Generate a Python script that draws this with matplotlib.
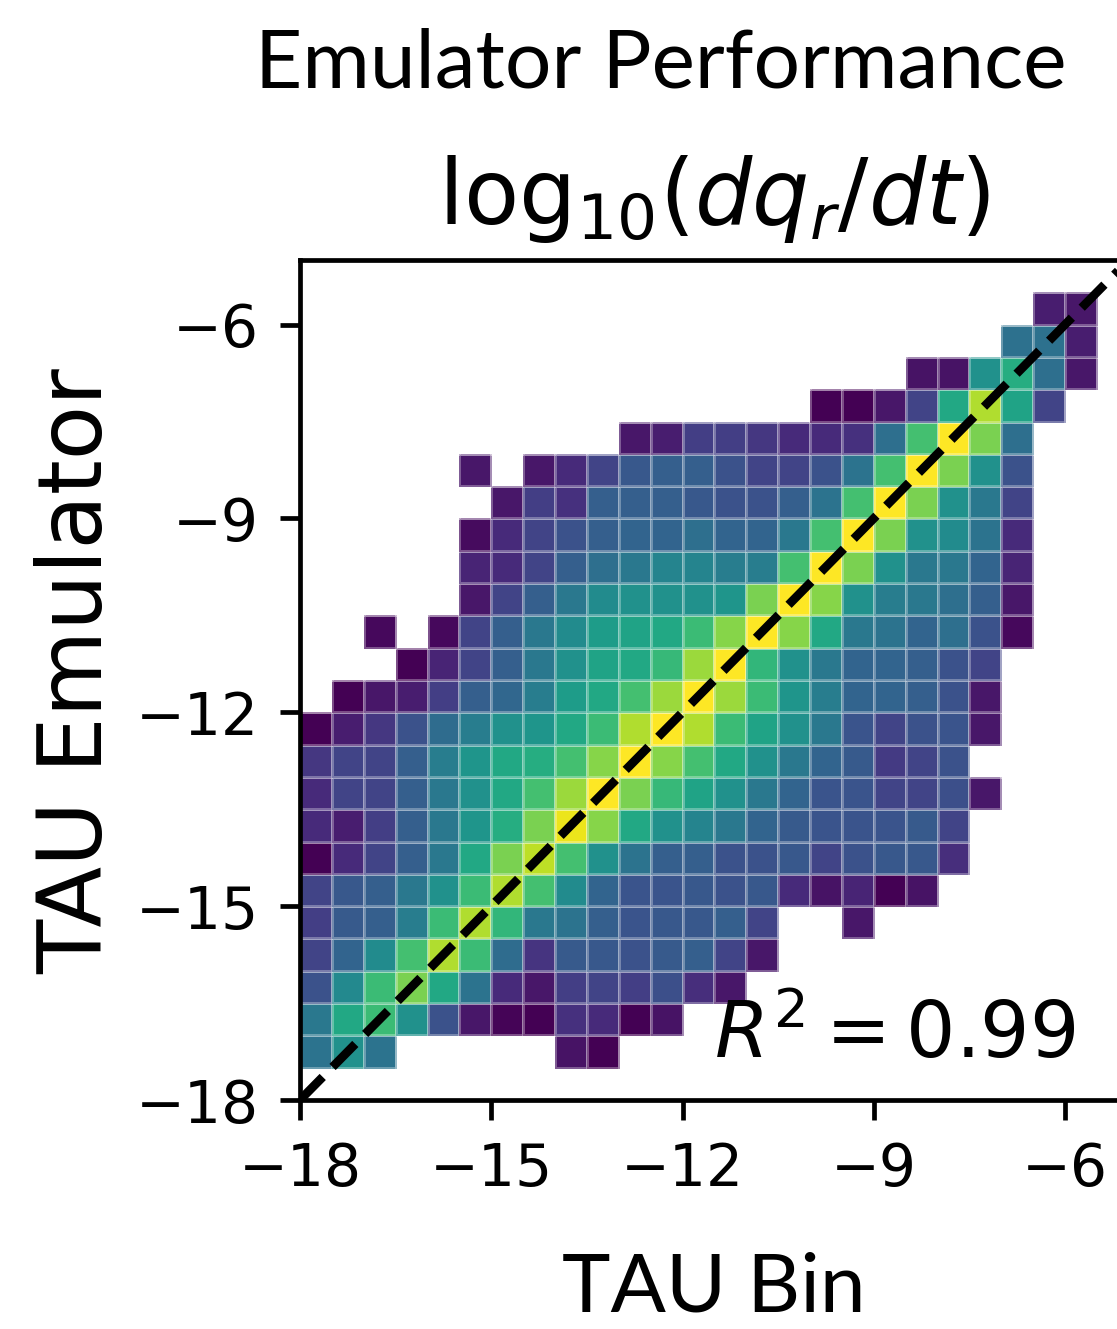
import numpy as np
import matplotlib
matplotlib.use("Agg")
import matplotlib.pyplot as plt

N = np.nan

# bin edges of the 2D histogram (0.5 wide bins on both axes)
bin_lo, bin_hi, bin_w = -18.0, -5.0, 0.5

# normalised (log) counts per bin, row 0 = bottom row (TAU Emulator -18 .. -17.5)
row_00 = [N] * 26
row_01 = [0.38, 0.50, 0.38, N, N, N, N, N, 0.05, 0.00] + [N] * 16
row_02 = [0.40, 0.60, 0.68, 0.50, 0.25, 0.06, 0.01, 0.00, 0.14, 0.12, 0.00, 0.05] + [N] * 14
row_03 = [0.25, 0.47, 0.68, 0.80, 0.60, 0.38, 0.12, 0.06, 0.18, 0.20, 0.18, 0.24, 0.13, 0.06] + [N] * 12
row_04 = [0.20, 0.32, 0.48, 0.70, 0.88, 0.68, 0.35, 0.15, 0.28, 0.27, 0.25, 0.28, 0.30, 0.20, 0.06] + [N] * 11
row_05 = [0.18, 0.28, 0.30, 0.42, 0.68, 0.88, 0.66, 0.40, 0.38, 0.30, 0.26, 0.27, 0.27, 0.30, 0.20,
          N, N, 0.06] + [N] * 8
row_06 = [0.20, 0.27, 0.30, 0.40, 0.50, 0.68, 0.88, 0.70, 0.48, 0.32, 0.26, 0.26, 0.27, 0.25, 0.27,
          0.12, 0.05, 0.10, 0.00, 0.05] + [N] * 6
row_07 = [0.00, 0.12, 0.20, 0.30, 0.40, 0.60, 0.80, 0.90, 0.70, 0.50, 0.38, 0.30, 0.30, 0.25, 0.25,
          0.27, 0.20, 0.25, 0.27, 0.27, 0.13] + [N] * 5
row_08 = [0.12, 0.08, 0.18, 0.30, 0.40, 0.52, 0.62, 0.80, 0.97, 0.82, 0.60, 0.50, 0.45, 0.40, 0.32,
          0.28, 0.26, 0.26, 0.26, 0.28, 0.20] + [N] * 5
row_09 = [0.12, 0.20, 0.20, 0.30, 0.40, 0.50, 0.60, 0.70, 0.85, 1.00, 0.80, 0.67, 0.58, 0.50, 0.40,
          0.32, 0.26, 0.26, 0.20, 0.20, 0.24, 0.06] + [N] * 4
row_10 = [0.16, 0.20, 0.20, 0.30, 0.42, 0.52, 0.60, 0.62, 0.70, 0.82, 1.00, 0.82, 0.70, 0.60, 0.50,
          0.40, 0.32, 0.28, 0.17, 0.20, 0.25] + [N] * 5
row_11 = [0.00, 0.08, 0.16, 0.25, 0.35, 0.42, 0.50, 0.52, 0.60, 0.68, 0.88, 1.00, 0.88, 0.68, 0.58,
          0.50, 0.40, 0.26, 0.20, 0.25, 0.26, 0.06] + [N] * 4
row_12 = [N, 0.00, 0.06, 0.08, 0.18, 0.30, 0.33, 0.42, 0.55, 0.60, 0.70, 0.85, 1.00, 0.85, 0.68,
          0.52, 0.42, 0.32, 0.32, 0.30, 0.25, 0.06] + [N] * 4
row_13 = [N, N, N, 0.00, 0.10, 0.20, 0.30, 0.40, 0.50, 0.58, 0.60, 0.67, 0.85, 1.00, 0.66,
          0.50, 0.40, 0.32, 0.32, 0.30, 0.25, 0.20] + [N] * 4
row_14 = [N, N, 0.02, N, 0.02, 0.20, 0.30, 0.40, 0.48, 0.55, 0.58, 0.60, 0.68, 0.82, 1.00,
          0.82, 0.60, 0.40, 0.38, 0.32, 0.36, 0.25, 0.02] + [N] * 3
row_15 = [N] * 5 + [0.06, 0.20, 0.30, 0.40, 0.48, 0.50, 0.50, 0.50, 0.52, 0.80, 1.00, 0.82, 0.50,
                    0.42, 0.40, 0.36, 0.30, 0.06] + [N] * 3
row_16 = [N] * 5 + [0.10, 0.12, 0.20, 0.30, 0.36, 0.40, 0.45, 0.45, 0.42, 0.42, 0.70, 1.00, 0.80,
                    0.50, 0.40, 0.40, 0.32, 0.10] + [N] * 3
row_17 = [N] * 5 + [0.03, 0.12, 0.20, 0.25, 0.30, 0.32, 0.32, 0.36, 0.32, 0.32, 0.40, 0.70, 1.00,
                    0.80, 0.50, 0.48, 0.38, 0.12] + [N] * 3
row_18 = [N] * 6 + [0.06, 0.18, 0.14, 0.30, 0.30, 0.30, 0.27, 0.25, 0.25, 0.30, 0.38, 0.70, 1.00,
                    0.80, 0.50, 0.40, 0.20] + [N] * 3
row_19 = [N] * 5 + [0.06, N, 0.06, 0.12, 0.20, 0.27, 0.30, 0.30, 0.25, 0.20, 0.20, 0.25, 0.38,
                    0.70, 1.00, 0.80, 0.50, 0.25] + [N] * 3
row_20 = [N] * 10 + [0.06, 0.08, 0.18, 0.18, 0.16, 0.12, 0.12, 0.14, 0.36, 0.70, 1.00, 0.80, 0.36] + [N] * 3
row_21 = [N] * 16 + [0.00, 0.00, 0.06, 0.20, 0.60, 0.88, 0.58, 0.20] + [N] * 2
row_22 = [N] * 19 + [0.05, 0.05, 0.50, 0.62, 0.36, 0.06] + [N]
row_23 = [N] * 22 + [0.37, 0.37, 0.08] + [N]
row_24 = [N] * 23 + [0.08, 0.06] + [N]
row_25 = [N] * 26

grid = np.array([row_00, row_01, row_02, row_03, row_04, row_05, row_06, row_07, row_08,
                 row_09, row_10, row_11, row_12, row_13, row_14, row_15, row_16, row_17,
                 row_18, row_19, row_20, row_21, row_22, row_23, row_24, row_25])
grid = np.ma.masked_invalid(grid)

ticks = [-18, -15, -12, -9, -6]
r2_text = r"$R^2 = 0.99$"
title_text = r"log$_{10}$($dq_r/dt$)"

W, H = 1117, 1329
fig = plt.figure(figsize=(W / 100, H / 100), dpi=100)
ax = fig.add_axes([300 / W, 229 / H, 828.75 / W, 840 / H])

edges = np.arange(bin_lo, bin_hi + bin_w / 2, bin_w)
ax.pcolormesh(edges, edges, grid, cmap="viridis", vmin=0, vmax=1,
              edgecolors=(1, 1, 1, 0.3), linewidth=1.0)
ax.plot([bin_lo, bin_hi], [bin_lo, bin_hi], "k--", lw=6.3)

ax.set_xlim(bin_lo, bin_hi)
ax.set_ylim(bin_lo, bin_hi)
ax.set_xticks(ticks)
ax.set_yticks(ticks)
ax.tick_params(labelsize=42, length=14.7, width=3.4, pad=14.7)
for sp in ax.spines.values():
    sp.set_linewidth(3.4)

ax.set_title(title_text, fontsize=65, pad=26)
ax.text(0.5, 0.05, r2_text, transform=ax.transAxes, fontsize=56)

# PowerPoint-style labels (Calibri look-alike)
fig.text(661 / W, 1 - 88 / H, "Emulator Performance", family="Lato", fontsize=59,
         ha="center", va="baseline")
fig.text(714 / W, 1 - 1312 / H, "TAU Bin", family="Lato", fontsize=59,
         ha="center", va="baseline")
fig.text(102 / W, 1 - 671 / H, "TAU Emulator", fontsize=64, rotation=90,
         rotation_mode="anchor", ha="center", va="baseline")

fig.savefig("out.png", dpi=100)
